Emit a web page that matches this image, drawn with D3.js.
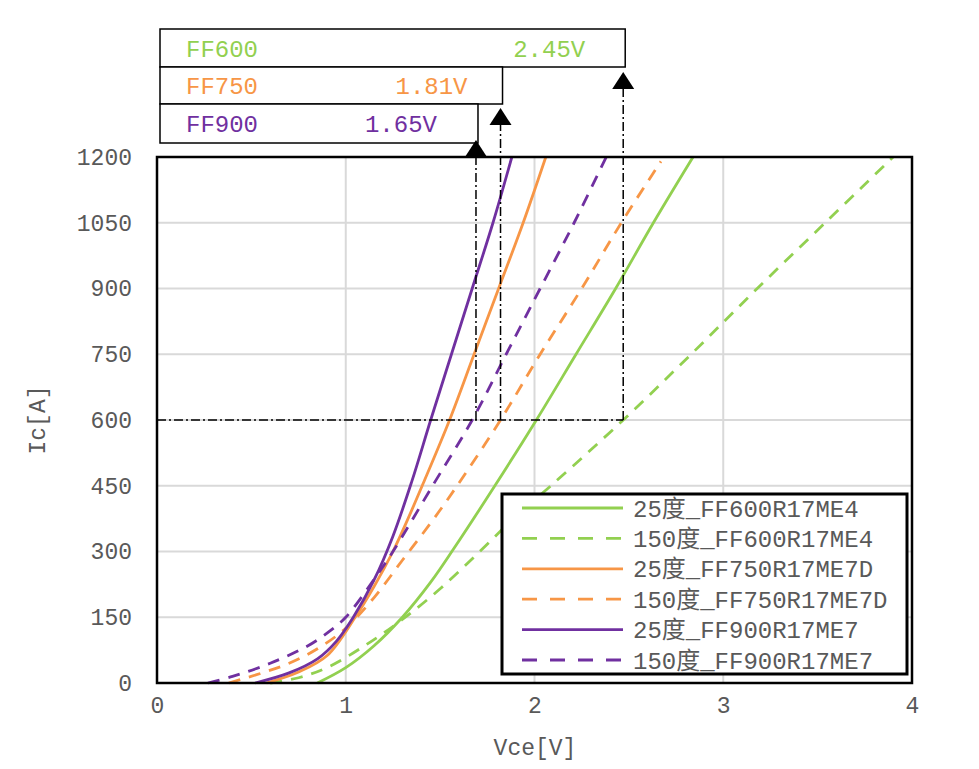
<!DOCTYPE html>
<meta charset="utf-8">
<style>
body { margin: 0; background: #fff; }
text { font-family: "Liberation Mono", "Noto Sans CJK SC", monospace; }
.tick { fill: #595959; font-size: 23px; }
.grid line { stroke: #d9d9d9; stroke-width: 2; }
</style>
<body>
<script src="https://cdn.jsdelivr.net/npm/d3@7"></script>
<script>
// ticks
var xTicks = [0, 1, 2, 3, 4];
var yTicks = [0, 150, 300, 450, 600, 750, 900, 1050, 1200];

// curves: [Vce, Ic]
var ff600_25 = [[0.85,0],[1.0,35],[1.15,85],[1.30,150],[1.45,230],[1.57,305],[1.79,450],[2.01,600],[2.22,750],[2.43,900],[2.63,1050],[2.84,1200]];
var ff600_150 = [[0.60,0],[0.75,12],[0.90,35],[1.10,85],[1.30,145],[1.50,215],[1.71,300],[1.90,380],[2.10,455],[2.47,600],[2.83,750],[3.18,900],[3.54,1050],[3.90,1200]];
var ff750_25 = [[0.58,0],[0.75,25],[0.90,62],[1.05,150],[1.15,220],[1.25,300],[1.33,375],[1.41,455],[1.55,600],[1.68,750],[1.81,900],[1.94,1050],[2.06,1200]];
var ff750_150 = [[0.38,0],[0.55,22],[0.70,45],[0.85,78],[1.0,125],[1.15,195],[1.30,280],[1.45,365],[1.59,450],[1.82,600],[2.03,750],[2.25,900],[2.46,1050],[2.67,1190]];
var ff900_25 = [[0.52,0],[0.70,23],[0.85,55],[0.95,95],[1.04,150],[1.15,235],[1.25,335],[1.35,460],[1.45,600],[1.56,750],[1.67,900],[1.78,1050],[1.88,1200]];
var ff900_150 = [[0.27,0],[0.40,15],[0.60,45],[0.80,85],[0.92,120],[1.0,150],[1.14,230],[1.25,300],[1.46,450],[1.67,600],[1.85,750],[2.03,900],[2.21,1050],[2.38,1200]];

var seriesNames = ["25度_FF600R17ME4", "150度_FF600R17ME4", "25度_FF750R17ME7D", "150度_FF750R17ME7D", "25度_FF900R17ME7", "150度_FF900R17ME7"];
var seriesData = [ff600_25, ff600_150, ff750_25, ff750_150, ff900_25, ff900_150];
var seriesColors = ["#92d050", "#92d050", "#f79646", "#f79646", "#7030a0", "#7030a0"];
var seriesDashed = [false, true, false, true, false, true];

// 600A marker annotations
var refCurrent = 600;
var markerNames = ["FF600", "FF750", "FF900"];
var markerLabels = ["2.45V", "1.81V", "1.65V"];
var markerV = [2.47, 1.82, 1.69];
var markerColors = ["#92d050", "#f79646", "#7030a0"];

var margin = {top: 157, right: 67, bottom: 86, left: 157},
    width = 979 - margin.left - margin.right,
    height = 769 - margin.top - margin.bottom;

var svg = d3.select("body").append("svg")
    .attr("width", 979)
    .attr("height", 769);

var g = svg.append("g")
    .attr("transform", "translate(" + margin.left + "," + margin.top + ")");

var x = d3.scaleLinear().domain([0, 4]).range([0, width]);
var y = d3.scaleLinear().domain([0, 1200]).range([height, 0]);

// grid
g.append("g").attr("class", "grid")
  .selectAll("line").data(xTicks.slice(1, -1)).enter().append("line")
    .attr("x1", x).attr("x2", x).attr("y1", 0).attr("y2", height);
g.append("g").attr("class", "grid")
  .selectAll("line").data(yTicks.slice(1, -1)).enter().append("line")
    .attr("y1", y).attr("y2", y).attr("x1", 0).attr("x2", width);

// axes labels
var xAxis = d3.axisBottom(x).tickValues(xTicks).tickSize(0).tickPadding(14).tickFormat(d3.format("d"));
var yAxis = d3.axisLeft(y).tickValues(yTicks).tickSize(0).tickPadding(25).tickFormat(d3.format("d"));

var gx = g.append("g").attr("transform", "translate(0," + height + ")").call(xAxis);
var gy = g.append("g").call(yAxis);
[gx, gy].forEach(function(a) {
  a.select(".domain").remove();
  a.selectAll("text").attr("class", "tick");
  a.attr("font-family", null).attr("font-size", null);
});
gx.selectAll("text").attr("dy", "0.71em");

svg.append("text")
    .attr("x", 535).attr("y", 755)
    .attr("text-anchor", "middle")
    .attr("fill", "#595959").attr("font-size", 23)
    .text("Vce[V]");

svg.append("text")
    .attr("transform", "translate(45,420) rotate(-90)")
    .attr("text-anchor", "middle")
    .attr("fill", "#595959").attr("font-size", 23)
    .text("Ic[A]");

// curves
var line = d3.line()
    .x(function(d) { return x(d[0]); })
    .y(function(d) { return y(d[1]); })
    .curve(d3.curveCatmullRom.alpha(0.5));

g.selectAll(".curve")
    .data(seriesData)
  .enter().append("path")
    .attr("class", "curve")
    .attr("d", line)
    .attr("fill", "none")
    .attr("stroke", function(d, i) { return seriesColors[i]; })
    .attr("stroke-width", 2.8)
    .attr("stroke-dasharray", function(d, i) { return seriesDashed[i] ? "12,9" : null; });

// dash-dot reference lines
var dashDot = "9,3,2,3";
var maxV = d3.max(markerV);
g.append("line")
    .attr("x1", 0).attr("x2", x(maxV))
    .attr("y1", y(refCurrent)).attr("y2", y(refCurrent))
    .attr("stroke", "#000").attr("stroke-width", 1.5)
    .attr("stroke-dasharray", dashDot);

// layout of the three boxes above the plot (svg coords)
var boxTop = [29, 67, 104], boxBottom = [67, 104, 143], tipY = [72, 108, 140], triH = 17;
var labelGap = [38, 33, 39];

markerV.forEach(function(v, i) {
  var px = margin.left + x(v);
  svg.append("line")
      .attr("x1", px).attr("x2", px)
      .attr("y1", margin.top + y(refCurrent)).attr("y2", tipY[i] + triH)
      .attr("stroke", "#000").attr("stroke-width", 1.5)
      .attr("stroke-dasharray", dashDot);
});

// legend
var lg = svg.append("g").attr("transform", "translate(502,494)");
lg.append("rect")
    .attr("width", 405).attr("height", 180)
    .attr("fill", "#fff").attr("stroke", "#000").attr("stroke-width", 3);
var item = lg.selectAll(".item")
    .data(seriesNames)
  .enter().append("g")
    .attr("transform", function(d, i) { return "translate(0," + (14 + i * 30.4) + ")"; });
item.append("line")
    .attr("x1", 20).attr("x2", 121)
    .attr("stroke", function(d, i) { return seriesColors[i]; })
    .attr("stroke-width", 2.8)
    .attr("stroke-dasharray", function(d, i) { return seriesDashed[i] ? "15,13" : null; });
item.append("text")
    .attr("x", 131).attr("dy", "0.36em")
    .attr("fill", "#595959").attr("font-size", 24)
    .text(function(d) { return d; });

// plot border
g.append("rect")
    .attr("width", width).attr("height", height)
    .attr("fill", "none").attr("stroke", "#000").attr("stroke-width", 2.5);

// annotation boxes + arrows
markerNames.forEach(function(name, i) {
  var px = margin.left + x(markerV[i]);
  svg.append("rect")
      .attr("x", 160).attr("y", boxTop[i])
      .attr("width", px - 160 + 2).attr("height", boxBottom[i] - boxTop[i])
      .attr("fill", "#fff").attr("stroke", "#000").attr("stroke-width", 1.5);
  var cy = (boxTop[i] + boxBottom[i]) / 2;
  svg.append("text")
      .attr("x", 186).attr("y", cy).attr("dy", "0.36em")
      .attr("fill", markerColors[i]).attr("font-size", 24)
      .text(name);
  svg.append("text")
      .attr("x", px - labelGap[i]).attr("y", cy).attr("dy", "0.36em")
      .attr("text-anchor", "end")
      .attr("fill", markerColors[i]).attr("font-size", 24)
      .text(markerLabels[i]);
  svg.append("path")
      .attr("d", "M" + px + "," + tipY[i] + "L" + (px + 11) + "," + (tipY[i] + triH) + "L" + (px - 11) + "," + (tipY[i] + triH) + "Z")
      .attr("fill", "#000");
});
</script>
</body>
</html>
